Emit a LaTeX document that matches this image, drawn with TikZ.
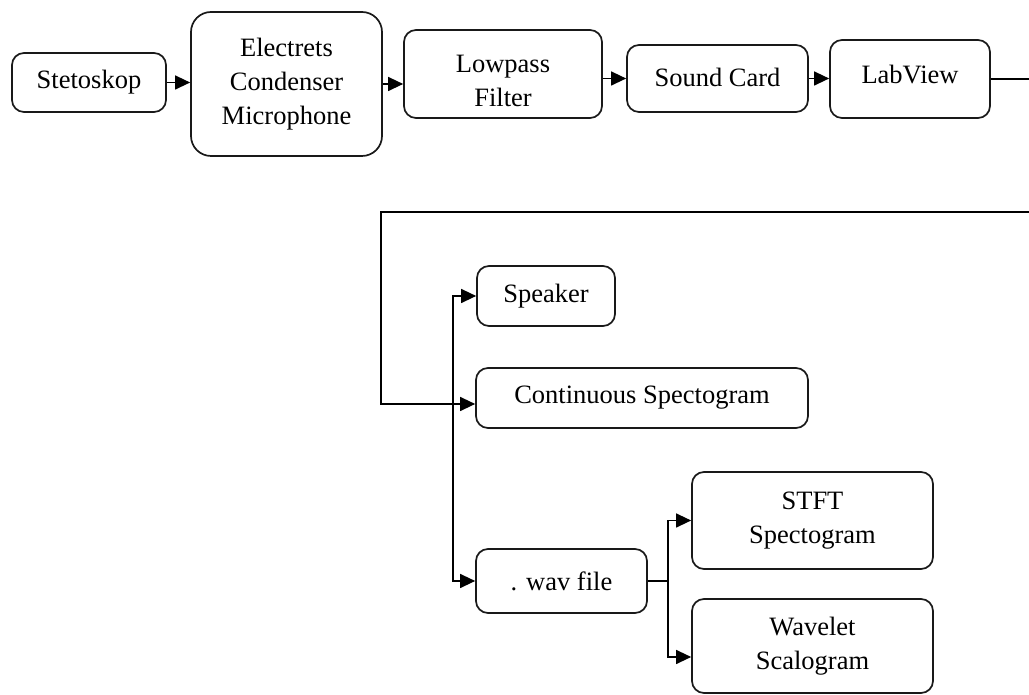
\documentclass[tikz,border=0pt]{standalone}
\usepackage{fontspec}
\setmainfont{Liberation Serif}
\usetikzlibrary{arrows.meta}
\begin{document}
\begin{tikzpicture}[x=1pt,y=1pt,
  box/.style={draw=black!90, line width=1.7pt, rounded corners=12pt, align=center,
    inner sep=0pt, font=\fontsize{26.5}{34}\selectfont},
  conn/.style={line width=1.3pt, draw=black},
  arr/.style={conn, -{Triangle[length=15pt,width=14pt]}},
  darr/.style={conn, {Triangle[length=15pt,width=14pt]}-{Triangle[length=15pt,width=14pt]}}]
\useasboundingbox (0,0) rectangle (1029,695);
% top row
\node[box, minimum width=154pt, minimum height=59pt] (stet) at (89,612.5) {Stetoskop};
\node[box, rounded corners=20pt, minimum width=191pt, minimum height=144pt] (elec) at (286.5,611) {Electrets\\Condenser\\Microphone};
\node[box, minimum width=198pt, minimum height=88pt] (low) at (503,621) {};
\node[font=\fontsize{26.5}{34}\selectfont, align=center, inner sep=0pt] (lowtxt) at ([yshift=-7pt]low.center) {Lowpass\\Filter};
\node[box, minimum width=181pt, minimum height=67pt] (sound) at (717.5,616.5) {\raisebox{3pt}{Sound Card}};
\node[box, minimum width=160pt, minimum height=78pt] (lab) at (910,616) {\raisebox{10pt}{LabView}};
% lower part
\node[box, minimum width=138pt, minimum height=60pt] (spk) at (546,399) {Speaker};
\node[box, minimum width=332pt, minimum height=60pt] (cont) at (642,297) {Continuous Spectogram};
\node[box, minimum width=171pt, minimum height=64pt] (wav) at (561.5,114) {. wav file};
\node[box, minimum width=241pt, minimum height=97pt] (stft) at (812.5,174.5) {STFT\\Spectogram};
\node[box, minimum width=241pt, minimum height=94pt] (wave) at (812.5,49) {Wavelet\\Scalogram};
% coordinates
\coordinate (e1) at (1029,616);
\coordinate (e2) at (1029,483);
\coordinate (bend) at (381,483);
\coordinate (busa) at (453,0);
\coordinate (busb) at (668,0);
\coordinate (contin) at ([yshift=-6pt]cont.west);
\coordinate (wavein) at ([yshift=-11pt]wave.west);
% connectors
\draw[arr] (stet.east) -- (stet.east -| elec.west);
\draw[arr] (elec.east) -- (elec.east -| low.west);
\draw[arr] (sound.west -| low.east) -- (sound.west);
\draw[arr] (sound.east) -- (sound.east -| lab.west);
\draw[conn] (lab.east) -- (e1);
\draw[arr] (e2) -- (bend) |- (contin);
\draw[darr] (spk.west) -- (busa |- spk.west) -- (busa |- wav.west) -- (wav.west);
\draw[conn] (wav.east) -- (busb |- wav.east);
\draw[darr] (stft.west) -- (busb |- stft.west) -- (busb |- wavein) -- (wavein);
\end{tikzpicture}
\end{document}
